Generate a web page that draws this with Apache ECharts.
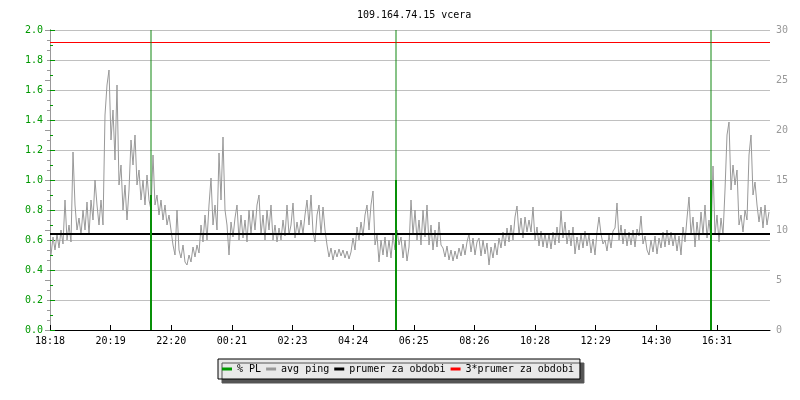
<!DOCTYPE html>
<html>
<head>
<meta charset="utf-8">
<script src="https://cdn.jsdelivr.net/npm/echarts@6/dist/echarts.min.js"></script>
<style>
  html, body { margin: 0; padding: 0; background: #fff; }
  #chart { width: 800px; height: 400px; }
</style>
</head>
<body>
<div id="chart"></div>
<script>
// time axis: minutes from 18:18, one label every 121.25 min
const tickLabels = ['18:18', '20:19', '22:20', '00:21', '02:23', '04:24', '06:25', '08:26', '10:28', '12:29', '14:30', '16:31'];
const tickStep = 121.25;
const spanMinutes = 1440;

// packet loss (% PL, left axis)
const plTimes = [202, 692, 1322];
const plValues = [0.9, 1.0, 1.0];
const plTicks = [2.0, 2.0, 2.0];

// avg ping in ms (right axis), one sample every 4 minutes
const pingStart = 2;
const pingStep = 4;
const avgPing = [
  7.5, 9.3, 8.0, 9.6, 8.2, 10.0, 8.6, 13.0, 9.0, 10.5, 8.8, 17.8, 12.5, 10.0, 11.2, 9.5, 12.0, 10.0, 12.8, 9.5,
  13.0, 11.0, 15.0, 12.5, 10.5, 13.0, 10.5, 21.5, 24.5, 26.0, 19.0, 22.0, 17.0, 24.5, 14.5, 16.5, 12.0, 14.5, 11.0, 14.0,
  19.0, 16.5, 19.5, 14.5, 16.0, 13.0, 15.0, 12.5, 15.5, 13.0, 12.0, 17.5, 12.5, 13.5, 11.5, 13.0, 11.0, 12.5, 10.5, 11.5,
  11.5, 8.5, 7.5, 12.0, 8.0, 7.2, 8.5, 6.8, 6.5, 7.5, 6.8, 8.3, 7.3, 8.5, 7.7, 10.5, 8.8, 11.5, 9.0, 12.5,
  15.2, 10.5, 12.5, 10.0, 17.7, 13.0, 19.3, 12.0, 10.5, 7.5, 10.8, 9.3, 11.2, 12.5, 9.0, 11.5, 9.2, 11.0, 8.8, 12.0,
  9.6, 12.0, 10.0, 12.5, 13.5, 9.5, 11.5, 9.0, 12.0, 10.0, 12.5, 9.0, 10.5, 8.8, 10.2, 9.0, 11.0, 9.4, 12.5, 9.5,
  10.5, 12.7, 9.2, 10.8, 9.5, 11.0, 9.6, 11.5, 13.0, 10.5, 13.5, 9.8, 8.8, 11.5, 12.5, 9.5, 12.3, 10.0, 8.5, 7.3,
  8.2, 7.0, 8.0, 7.3, 8.1, 7.4, 8.0, 7.2, 7.9, 7.1, 7.8, 9.2, 8.0, 10.3, 9.0, 10.8, 9.4, 11.5, 12.5, 10.0,
  12.5, 13.9, 8.5, 9.5, 6.8, 9.0, 7.5, 9.3, 7.3, 9.0, 7.2, 9.5, 8.0, 10.0, 8.5, 9.3, 7.2, 9.0, 6.9, 8.3,
  13.0, 9.5, 12.0, 9.0, 11.0, 8.5, 12.0, 9.3, 12.5, 8.5, 10.5, 8.0, 10.0, 8.3, 10.8, 8.5, 8.2, 7.3, 8.4, 7.0,
  8.0, 6.9, 7.9, 7.1, 8.2, 7.4, 8.6, 7.5, 8.8, 9.6, 7.8, 9.2, 7.5, 8.8, 9.2, 7.4, 9.0, 7.6, 8.7, 6.5,
  8.3, 7.2, 8.7, 7.5, 9.2, 8.2, 9.8, 8.4, 10.2, 8.8, 10.5, 9.0, 11.3, 12.4, 9.5, 11.2, 9.2, 11.3, 9.8, 11.0,
  9.8, 12.3, 9.0, 10.3, 8.4, 9.9, 8.3, 9.7, 8.2, 9.6, 8.1, 9.8, 8.5, 10.3, 8.7, 11.9, 9.2, 10.8, 8.6, 10.0,
  8.4, 10.3, 7.6, 9.3, 8.0, 9.6, 8.2, 9.9, 8.4, 9.5, 7.7, 9.1, 7.5, 9.8, 11.3, 9.6, 8.6, 9.0, 7.9, 9.5,
  8.2, 9.9, 10.2, 12.7, 9.0, 10.5, 8.6, 10.1, 8.4, 9.8, 8.5, 10.0, 8.3, 10.1, 9.4, 11.4, 8.6, 9.4, 8.0, 7.5,
  9.0, 7.8, 9.4, 7.6, 9.2, 8.2, 9.8, 8.3, 10.0, 8.5, 9.8, 8.4, 9.6, 7.9, 9.4, 7.5, 10.3, 8.8, 11.2, 13.3,
  9.5, 11.3, 8.3, 10.8, 9.0, 11.8, 9.5, 12.5, 9.2, 11.0, 9.0, 16.4, 9.5, 11.5, 8.8, 11.2, 9.5, 14.0, 19.5, 20.8,
  14.0, 16.5, 14.5, 16.0, 10.5, 11.5, 9.8, 12.0, 11.0, 17.5, 19.5, 13.5, 14.8, 12.5, 10.8, 12.3, 10.2, 12.5, 10.5, 11.8
];

const meanPing = 9.6;
const meanPing3 = 28.75;

const font = 'DejaVu Sans Mono';
const green = '#009900';

const chart = echarts.init(document.getElementById('chart'));

const pingData = avgPing.map((v, i) => [pingStart + i * pingStep, v]);

chart.setOption({
    animation: false,
    backgroundColor: '#fff',
    title: {
        text: '109.164.74.15 vcera',
        left: 352,
        top: 5,
        textStyle: {fontFamily: font, fontSize: 10, fontWeight: 'normal', color: '#000'}
    },
    grid: {left: 50, right: 30, top: 30, bottom: 70, containLabel: false, outerBoundsMode: 'none'},
    legend: {
        data: ['% PL', 'avg ping', 'prumer za obdobi', '3*prumer za obdobi'],
        left: 218,
        top: 359,
        icon: 'rect',
        itemWidth: 10,
        itemHeight: 3,
        itemGap: 5,
        padding: [5, 6, 5, 4],
        backgroundColor: '#e9e9e9',
        borderColor: '#000',
        borderWidth: 1,
        borderRadius: 0,
        shadowColor: '#555',
        shadowBlur: 0,
        shadowOffsetX: 4,
        shadowOffsetY: 4,
        textStyle: {fontFamily: font, fontSize: 10, color: '#000'}
    },
    xAxis: [
        {
            type: 'value',
            min: 0,
            max: spanMinutes,
            interval: tickStep,
            axisLine: {lineStyle: {color: '#000', width: 1}},
            axisTick: {inside: true, length: 5, lineStyle: {color: '#000'}},
            axisLabel: {
                fontFamily: font, fontSize: 10, color: '#000', margin: 6,
                showMaxLabel: false,
                formatter: v => tickLabels[Math.round(v / tickStep)] || ''
            },
            splitLine: {show: false}
        },
        {
            type: 'value',
            min: 0,
            max: spanMinutes,
            show: false
        }
    ],
    yAxis: [
        {
            type: 'value',
            min: 0,
            max: 2,
            interval: 0.2,
            axisLine: {show: true, lineStyle: {color: green}},
            axisTick: {show: true, inside: true, length: 5, lineStyle: {color: green}},
            minorTick: {show: true, splitNumber: 2, length: 3, lineStyle: {color: green}},
            axisLabel: {fontFamily: font, fontSize: 10, color: green, margin: 7, formatter: v => v.toFixed(1)},
            splitLine: {show: true, lineStyle: {color: '#c0c0c0', width: 1}}
        },
        {
            type: 'value',
            min: 0,
            max: 30,
            interval: 5,
            position: 'right',
            axisLine: {show: true, lineStyle: {color: '#999'}},
            axisTick: {show: true, inside: true, length: 5, lineStyle: {color: '#999'}},
            minorTick: {show: true, splitNumber: 5, length: 3, lineStyle: {color: '#999'}},
            axisLabel: {fontFamily: font, fontSize: 10, color: '#999', margin: 6},
            splitLine: {show: false}
        }
    ],
    series: [
        {
            name: 'avg ping',
            type: 'line',
            yAxisIndex: 1,
            data: pingData,
            showSymbol: false,
            symbol: 'none',
            sampling: 'none',
            lineStyle: {color: '#999', width: 1},
            itemStyle: {color: '#999'},
            z: 2
        },
        {
            name: 'prumer za obdobi',
            type: 'line',
            yAxisIndex: 1,
            data: [[0, meanPing], [spanMinutes, meanPing]],
            showSymbol: false,
            symbol: 'none',
            lineStyle: {color: '#000', width: 2},
            itemStyle: {color: '#000'},
            z: 3
        },
        {
            name: '3*prumer za obdobi',
            type: 'line',
            yAxisIndex: 1,
            data: [[0, meanPing3], [spanMinutes, meanPing3]],
            showSymbol: false,
            symbol: 'none',
            lineStyle: {color: '#ff0000', width: 1},
            itemStyle: {color: '#ff0000'},
            z: 3
        },
        {
            name: '% PL',
            type: 'bar',
            yAxisIndex: 0,
            xAxisIndex: 0,
            data: plTimes.map((t, i) => [t, plValues[i]]),
            barWidth: 2,
            itemStyle: {color: green},
            z: 4
        },
        {
            name: '% PL',
            type: 'bar',
            yAxisIndex: 0,
            xAxisIndex: 1,
            data: plTimes.map((t, i) => [t, plTicks[i]]),
            barWidth: 1,
            itemStyle: {color: '#118811'},
            z: 4
        }
    ]
});
</script>
</body>
</html>
